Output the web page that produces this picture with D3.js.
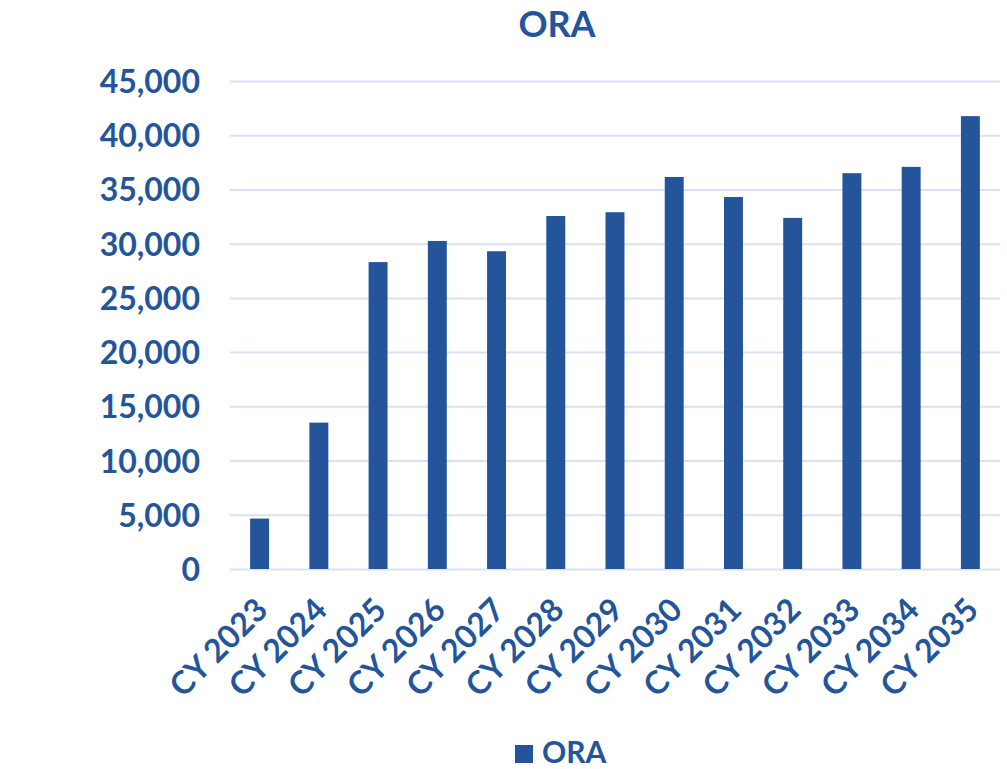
<!DOCTYPE html>
<html>
<head>
<meta charset="utf-8">
<script src="https://cdn.jsdelivr.net/npm/d3@7"></script>
<style>
  body { margin: 0; background: #fff; }
  svg text { font-family: Lato, "Noto Sans", sans-serif; font-weight: 700; fill: #23559b; }
</style>
</head>
<body>
<svg id="chart" width="1007" height="769"></svg>
<script>
// data
const categories = ['CY 2023', 'CY 2024', 'CY 2025', 'CY 2026', 'CY 2027', 'CY 2028', 'CY 2029',
  'CY 2030', 'CY 2031', 'CY 2032', 'CY 2033', 'CY 2034', 'CY 2035']
const oraValues = [4650, 13500, 28300, 30250, 29300, 32550, 32900, 36150, 34300, 32380, 36500, 37080, 41760]
const yTicks = [0, 5000, 10000, 15000, 20000, 25000, 30000, 35000, 40000, 45000]

const BAR_COLOR = '#24559b'
const GRID_COLOR = '#d9e2f3'

const width = 1007
const height = 769
const margin = { top: 81, right: 7, bottom: 200, left: 230 }
const aWidth = width - margin.left - margin.right
const aHeight = height - margin.top - margin.bottom

const svg = d3.select('#chart')

const xScale = d3.scaleBand().domain(categories).range([0, aWidth]).paddingInner(0.68).paddingOuter(0.34)
const yScale = d3.scaleLinear().domain([0, 45000]).range([aHeight, 0])

const g = svg.append('g')
  .attr('transform', 'translate(' + margin.left + ',' + margin.top + ')')

// gridlines
g.append('g')
  .attr('class', 'grid')
  .call(d3.axisLeft(yScale).tickValues(yTicks).tickSize(-aWidth).tickFormat(''))
  .call(s => s.select('.domain').remove())
  .call(s => s.selectAll('line').attr('stroke', GRID_COLOR).attr('stroke-width', 2))

// y labels
g.append('g')
  .attr('class', 'axis axis--y')
  .call(d3.axisLeft(yScale).tickValues(yTicks).tickSize(0).tickPadding(30).tickFormat(d3.format(',')))
  .call(s => s.select('.domain').remove())
  .call(s => s.selectAll('text').attr('font-size', 32).attr('dy', '0.36em'))

// bars
g.selectAll('.bar').data(oraValues).enter()
  .append('rect')
  .attr('class', 'bar')
  .attr('x', (d, i) => xScale(categories[i]))
  .attr('y', d => yScale(d))
  .attr('width', xScale.bandwidth())
  .attr('height', d => aHeight - yScale(d))
  .attr('fill', BAR_COLOR)

// x labels
g.append('g')
  .attr('class', 'axis axis--x')
  .attr('transform', 'translate(0,' + aHeight + ')')
  .call(d3.axisBottom(xScale).tickSize(0).tickPadding(0))
  .call(s => s.select('.domain').remove())
  .call(s => s.selectAll('text')
    .attr('font-size', 32)
    .attr('text-anchor', 'end')
    .attr('dy', 0)
    .attr('transform', 'translate(10,43) rotate(-45)'))

// title
svg.append('text')
  .attr('x', 557)
  .attr('y', 37)
  .attr('text-anchor', 'middle')
  .attr('font-size', 36)
  .text('ORA')

// legend
const legend = svg.append('g').attr('transform', 'translate(515,745)')
legend.append('rect').attr('width', 18).attr('height', 18).attr('fill', BAR_COLOR)
legend.append('text').attr('x', 27).attr('y', 18).attr('font-size', 30).text('ORA')
</script>
</body>
</html>
